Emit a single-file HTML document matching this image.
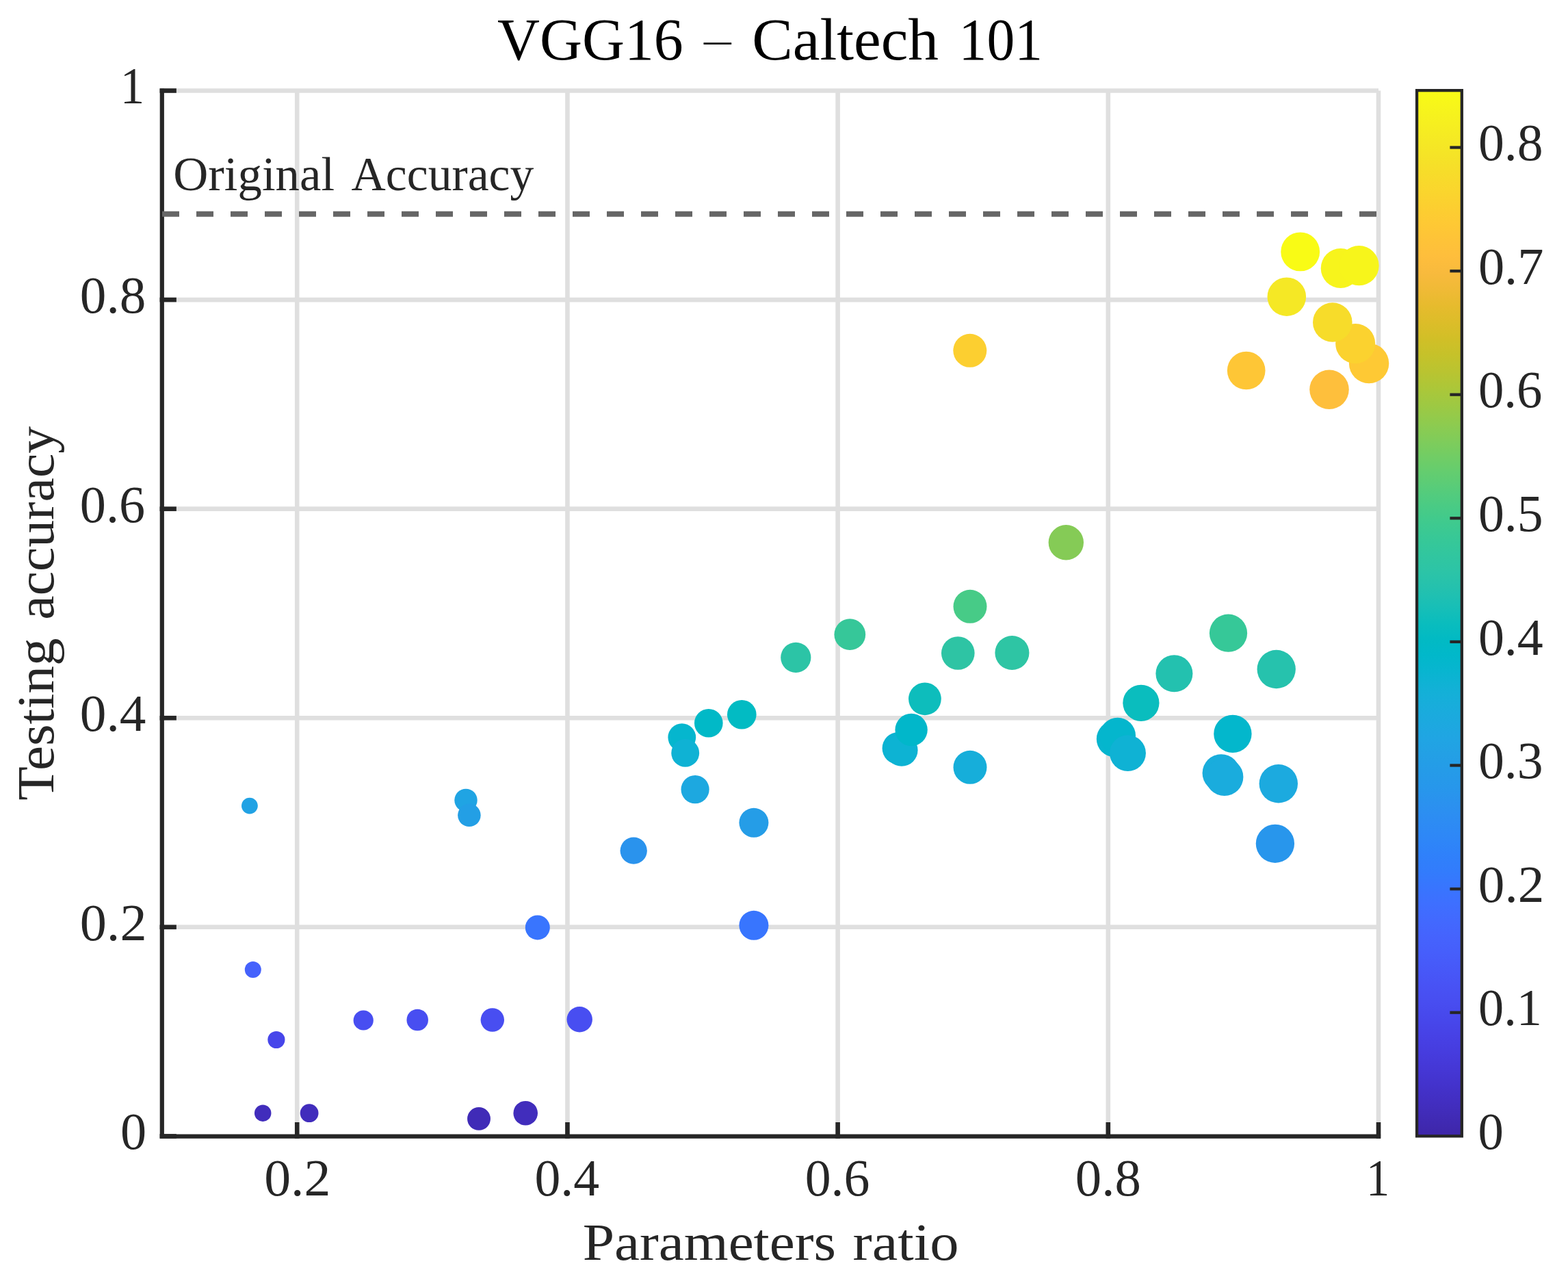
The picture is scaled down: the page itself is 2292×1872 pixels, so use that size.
<!DOCTYPE html>
<html lang="en"><head><meta charset="utf-8"><title>VGG16 – Caltech 101</title>
<style>html,body{margin:0;padding:0;background:#fff;}body{width:2292px;height:1872px;overflow:hidden;}svg{display:block;}text{font-family:"Liberation Serif","DejaVu Serif",serif;white-space:pre;}</style></head><body>
<svg width="2292" height="1872" viewBox="0 0 2292 1872">
<rect width="2292" height="1872" fill="#ffffff"/>
<defs><linearGradient id="parula" x1="0" y1="1" x2="0" y2="0"><stop offset="0.0000" stop-color="#3e26a8"/><stop offset="0.0159" stop-color="#402ab4"/><stop offset="0.0317" stop-color="#422ec0"/><stop offset="0.0476" stop-color="#4332cb"/><stop offset="0.0635" stop-color="#4537d5"/><stop offset="0.0794" stop-color="#463cde"/><stop offset="0.0952" stop-color="#4741e5"/><stop offset="0.1111" stop-color="#4747eb"/><stop offset="0.1270" stop-color="#484df0"/><stop offset="0.1429" stop-color="#4852f4"/><stop offset="0.1587" stop-color="#4758f8"/><stop offset="0.1746" stop-color="#465efb"/><stop offset="0.1905" stop-color="#4563fd"/><stop offset="0.2063" stop-color="#4269fe"/><stop offset="0.2222" stop-color="#3e6fff"/><stop offset="0.2381" stop-color="#3875fe"/><stop offset="0.2540" stop-color="#327cfc"/><stop offset="0.2698" stop-color="#2f81fa"/><stop offset="0.2857" stop-color="#2e87f7"/><stop offset="0.3016" stop-color="#2d8cf3"/><stop offset="0.3175" stop-color="#2b91ef"/><stop offset="0.3333" stop-color="#2797eb"/><stop offset="0.3492" stop-color="#259be8"/><stop offset="0.3651" stop-color="#23a0e5"/><stop offset="0.3810" stop-color="#20a5e3"/><stop offset="0.3968" stop-color="#1ca9df"/><stop offset="0.4127" stop-color="#18addb"/><stop offset="0.4286" stop-color="#12b1d6"/><stop offset="0.4444" stop-color="#08b5d0"/><stop offset="0.4603" stop-color="#01b8ca"/><stop offset="0.4762" stop-color="#02bac3"/><stop offset="0.4921" stop-color="#0bbdbd"/><stop offset="0.5079" stop-color="#19bfb6"/><stop offset="0.5238" stop-color="#24c1ae"/><stop offset="0.5397" stop-color="#2cc4a7"/><stop offset="0.5556" stop-color="#31c69f"/><stop offset="0.5714" stop-color="#37c897"/><stop offset="0.5873" stop-color="#3fca8e"/><stop offset="0.6032" stop-color="#4acb84"/><stop offset="0.6190" stop-color="#57cc7a"/><stop offset="0.6349" stop-color="#64cd6f"/><stop offset="0.6508" stop-color="#72cd64"/><stop offset="0.6667" stop-color="#81cc59"/><stop offset="0.6825" stop-color="#8fcb4e"/><stop offset="0.6984" stop-color="#9dc943"/><stop offset="0.7143" stop-color="#abc739"/><stop offset="0.7302" stop-color="#b9c431"/><stop offset="0.7460" stop-color="#c5c22a"/><stop offset="0.7619" stop-color="#d1bf27"/><stop offset="0.7778" stop-color="#dcbd29"/><stop offset="0.7937" stop-color="#e6bb2d"/><stop offset="0.8095" stop-color="#f0ba36"/><stop offset="0.8254" stop-color="#f8ba3d"/><stop offset="0.8413" stop-color="#febe3c"/><stop offset="0.8571" stop-color="#fec338"/><stop offset="0.8730" stop-color="#fec934"/><stop offset="0.8889" stop-color="#fccf30"/><stop offset="0.9048" stop-color="#fad62d"/><stop offset="0.9206" stop-color="#f7dc2a"/><stop offset="0.9365" stop-color="#f5e327"/><stop offset="0.9524" stop-color="#f5e924"/><stop offset="0.9683" stop-color="#f6ef20"/><stop offset="0.9841" stop-color="#f7f51b"/><stop offset="1.0000" stop-color="#f9fb15"/></linearGradient></defs>
<g stroke="#dfdfdf" stroke-width="6.6" fill="none">
<line x1="434.24" y1="132.50" x2="434.24" y2="1660.40"/>
<line x1="829.43" y1="132.50" x2="829.43" y2="1660.40"/>
<line x1="1224.62" y1="132.50" x2="1224.62" y2="1660.40"/>
<line x1="1619.81" y1="132.50" x2="1619.81" y2="1660.40"/>
<line x1="2015.00" y1="132.50" x2="2015.00" y2="1660.40"/>
<line x1="236.65" y1="1354.82" x2="2015.00" y2="1354.82"/>
<line x1="236.65" y1="1049.24" x2="2015.00" y2="1049.24"/>
<line x1="236.65" y1="743.66" x2="2015.00" y2="743.66"/>
<line x1="236.65" y1="438.08" x2="2015.00" y2="438.08"/>
<line x1="236.65" y1="132.50" x2="2015.00" y2="132.50"/>
</g>
<g>
<circle cx="364.9" cy="1177.6" r="11.90" fill="#21a2e4"/>
<circle cx="681.0" cy="1169.4" r="16.70" fill="#20a4e3"/>
<circle cx="685.9" cy="1191.3" r="16.76" fill="#239fe5"/>
<circle cx="369.8" cy="1417.0" r="11.99" fill="#4562fc"/>
<circle cx="403.9" cy="1519.5" r="12.59" fill="#4746ea"/>
<circle cx="531.2" cy="1491.0" r="14.62" fill="#484ef1"/>
<circle cx="610.2" cy="1490.5" r="15.75" fill="#484ef1"/>
<circle cx="719.8" cy="1490.5" r="17.20" fill="#484ef1"/>
<circle cx="384.2" cy="1626.7" r="12.25" fill="#412dbc"/>
<circle cx="452.1" cy="1626.7" r="13.40" fill="#412dbc"/>
<circle cx="700.0" cy="1634.9" r="16.95" fill="#402bb7"/>
<circle cx="768.2" cy="1626.7" r="17.80" fill="#412dbc"/>
<circle cx="847.2" cy="1489.8" r="18.74" fill="#484ef1"/>
<circle cx="785.8" cy="1355.4" r="18.01" fill="#3975fe"/>
<circle cx="926.2" cy="1243.2" r="19.63" fill="#2a93ed"/>
<circle cx="1101.9" cy="1352.3" r="21.49" fill="#3875fe"/>
<circle cx="1101.9" cy="1202.3" r="21.49" fill="#259de7"/>
<circle cx="1016.1" cy="1153.6" r="20.60" fill="#1da8e0"/>
<circle cx="996.8" cy="1077.6" r="20.40" fill="#05b6ce"/>
<circle cx="1001.7" cy="1100.4" r="20.45" fill="#0fb2d4"/>
<circle cx="1035.8" cy="1056.7" r="20.81" fill="#01b9c7"/>
<circle cx="1084.3" cy="1044.2" r="21.31" fill="#02bbc3"/>
<circle cx="1163.3" cy="960.9" r="22.10" fill="#2cc4a6"/>
<circle cx="1242.3" cy="927.2" r="22.86" fill="#36c799"/>
<circle cx="1418.0" cy="886.3" r="24.48" fill="#47cb87"/>
<circle cx="1400.3" cy="954.5" r="24.32" fill="#2ec4a4"/>
<circle cx="1479.4" cy="954.0" r="25.02" fill="#2ec5a4"/>
<circle cx="1351.9" cy="1021.3" r="23.88" fill="#0dbdbc"/>
<circle cx="1313.1" cy="1093.5" r="23.53" fill="#0bb3d2"/>
<circle cx="1318.0" cy="1096.3" r="23.57" fill="#0db3d3"/>
<circle cx="1332.1" cy="1066.5" r="23.70" fill="#01b7ca"/>
<circle cx="1418.0" cy="1121.3" r="24.48" fill="#16aeda"/>
<circle cx="1558.3" cy="792.8" r="25.69" fill="#85cb56"/>
<circle cx="1417.8" cy="512.3" r="24.47" fill="#fccf30"/>
<circle cx="1795.5" cy="925.2" r="27.62" fill="#36c898"/>
<circle cx="1716.4" cy="984.3" r="27.00" fill="#23c1af"/>
<circle cx="1865.7" cy="978.0" r="28.17" fill="#26c2ad"/>
<circle cx="1667.9" cy="1027.3" r="26.60" fill="#0abdbe"/>
<circle cx="1629.1" cy="1079.9" r="26.28" fill="#06b5ce"/>
<circle cx="1633.7" cy="1075.0" r="26.32" fill="#04b6cd"/>
<circle cx="1648.5" cy="1100.6" r="26.44" fill="#0fb2d4"/>
<circle cx="1801.9" cy="1072.4" r="27.67" fill="#03b7cc"/>
<circle cx="1785.1" cy="1129.7" r="27.54" fill="#19addc"/>
<circle cx="1789.8" cy="1135.4" r="27.58" fill="#1aacdd"/>
<circle cx="1868.8" cy="1145.2" r="28.20" fill="#1caadf"/>
<circle cx="1863.9" cy="1232.8" r="28.16" fill="#2896ec"/>
<circle cx="1900.7" cy="367.9" r="28.44" fill="#f9fb15"/>
<circle cx="1959.6" cy="392.0" r="28.89" fill="#f7f41c"/>
<circle cx="1986.6" cy="388.2" r="29.09" fill="#f7f51b"/>
<circle cx="1880.8" cy="433.7" r="28.29" fill="#f5e825"/>
<circle cx="2001.1" cy="531.1" r="29.20" fill="#fec934"/>
<circle cx="1981.2" cy="502.1" r="29.05" fill="#fbd22f"/>
<circle cx="1947.8" cy="471.0" r="28.80" fill="#f7dc2a"/>
<circle cx="1821.7" cy="541.5" r="27.83" fill="#fec636"/>
<circle cx="1943.0" cy="569.3" r="28.76" fill="#febf3c"/>
</g>
<g stroke="#262626" stroke-width="6.6" fill="none">
<polyline points="236.80,132.50 236.80,1660.60 2015.00,1660.60" stroke-linecap="square" stroke-width="6.2"/>
<line x1="434.24" y1="1663.70" x2="434.24" y2="1640.00"/>
<line x1="829.43" y1="1663.70" x2="829.43" y2="1640.00"/>
<line x1="1224.62" y1="1663.70" x2="1224.62" y2="1640.00"/>
<line x1="1619.81" y1="1663.70" x2="1619.81" y2="1640.00"/>
<line x1="2015.00" y1="1663.70" x2="2015.00" y2="1640.00"/>
<line x1="233.55" y1="1660.40" x2="257.85" y2="1660.40"/>
<line x1="233.55" y1="1354.82" x2="257.85" y2="1354.82"/>
<line x1="233.55" y1="1049.24" x2="257.85" y2="1049.24"/>
<line x1="233.55" y1="743.66" x2="257.85" y2="743.66"/>
<line x1="233.55" y1="438.08" x2="257.85" y2="438.08"/>
<line x1="233.55" y1="132.50" x2="257.85" y2="132.50"/>
</g>
<line x1="237" y1="312.7" x2="2012" y2="312.7" stroke="#666666" stroke-width="8" stroke-dasharray="25 25"/>
<rect x="2071.05" y="132.15" width="65.75" height="1528.15" fill="url(#parula)" stroke="#262626" stroke-width="4.3"/>
<g stroke="#262626" stroke-width="4.3">
<line x1="2119.40" y1="1479.70" x2="2136.80" y2="1479.70"/>
<line x1="2119.40" y1="1299.10" x2="2136.80" y2="1299.10"/>
<line x1="2119.40" y1="1118.50" x2="2136.80" y2="1118.50"/>
<line x1="2119.40" y1="937.90" x2="2136.80" y2="937.90"/>
<line x1="2119.40" y1="757.30" x2="2136.80" y2="757.30"/>
<line x1="2119.40" y1="576.70" x2="2136.80" y2="576.70"/>
<line x1="2119.40" y1="396.10" x2="2136.80" y2="396.10"/>
<line x1="2119.40" y1="215.50" x2="2136.80" y2="215.50"/>
</g>
<g>
<text y="86.80" font-size="87.00" fill="#000"><tspan x="727.10" y="86.80" textLength="271.64" lengthAdjust="spacingAndGlyphs">VGG16</tspan> <tspan x="1029.14" font-size="52.00" y="76.30" textLength="39.62" lengthAdjust="spacingAndGlyphs">–</tspan> <tspan x="1099.31" y="86.80" textLength="272.69" lengthAdjust="spacingAndGlyphs">Caltech</tspan> <tspan x="1401.62" y="86.80" textLength="122.40" lengthAdjust="spacingAndGlyphs">101</tspan></text>
<text y="1841.20" font-size="75.50" fill="#262626"><tspan x="851.70" textLength="370.29" lengthAdjust="spacingAndGlyphs">Parameters</tspan> <tspan x="1246.48" textLength="155.07" lengthAdjust="spacingAndGlyphs">ratio</tspan></text>
<text y="277.90" font-size="69.00" fill="#262626"><tspan x="253.19" textLength="235.88" lengthAdjust="spacingAndGlyphs">Original</tspan> <tspan x="513.60" textLength="266.70" lengthAdjust="spacingAndGlyphs">Accuracy</tspan></text>
<text y="0.00" font-size="75.50" fill="#262626" transform="translate(77.90,1168.60) rotate(-90)"><tspan x="-1.27" textLength="237.53" lengthAdjust="spacingAndGlyphs">Testing</tspan> <tspan x="262.91" textLength="282.79" lengthAdjust="spacingAndGlyphs">accuracy</tspan></text>
<text y="150.90" font-size="76.70" fill="#262626"><tspan x="175.86" textLength="35.47" lengthAdjust="spacingAndGlyphs">1</tspan></text>
<text y="456.98" font-size="76.70" fill="#262626"><tspan x="116.79" textLength="96.53" lengthAdjust="spacingAndGlyphs">0.8</tspan></text>
<text y="762.56" font-size="76.70" fill="#262626"><tspan x="116.82" textLength="95.27" lengthAdjust="spacingAndGlyphs">0.6</tspan></text>
<text y="1068.14" font-size="76.70" fill="#262626"><tspan x="116.78" textLength="96.62" lengthAdjust="spacingAndGlyphs">0.4</tspan></text>
<text y="1373.72" font-size="76.70" fill="#262626"><tspan x="116.75" textLength="97.81" lengthAdjust="spacingAndGlyphs">0.2</tspan></text>
<text y="1679.00" font-size="76.70" fill="#262626"><tspan x="176.11" textLength="38.17" lengthAdjust="spacingAndGlyphs">0</tspan></text>
<text y="1747.40" font-size="76.70" fill="#262626"><tspan x="386.21" textLength="97.28" lengthAdjust="spacingAndGlyphs">0.2</tspan></text>
<text y="1747.40" font-size="76.70" fill="#262626"><tspan x="781.46" textLength="94.75" lengthAdjust="spacingAndGlyphs">0.4</tspan></text>
<text y="1747.40" font-size="76.70" fill="#262626"><tspan x="1176.65" textLength="94.75" lengthAdjust="spacingAndGlyphs">0.6</tspan></text>
<text y="1747.40" font-size="76.70" fill="#262626"><tspan x="1571.81" textLength="96.00" lengthAdjust="spacingAndGlyphs">0.8</tspan></text>
<text y="1746.80" font-size="76.70" fill="#262626"><tspan x="1996.95" textLength="34.27" lengthAdjust="spacingAndGlyphs">1</tspan></text>
<text y="1679.00" font-size="76.70" fill="#262626"><tspan x="2160.56" textLength="37.37" lengthAdjust="spacingAndGlyphs">0</tspan></text>
<text y="1498.30" font-size="76.70" fill="#262626"><tspan x="2160.98" textLength="92.91" lengthAdjust="spacingAndGlyphs">0.1</tspan></text>
<text y="1317.70" font-size="76.70" fill="#262626"><tspan x="2160.89" textLength="96.43" lengthAdjust="spacingAndGlyphs">0.2</tspan></text>
<text y="1137.10" font-size="76.70" fill="#262626"><tspan x="2160.94" textLength="94.53" lengthAdjust="spacingAndGlyphs">0.3</tspan></text>
<text y="956.50" font-size="76.70" fill="#262626"><tspan x="2160.93" textLength="94.86" lengthAdjust="spacingAndGlyphs">0.4</tspan></text>
<text y="775.90" font-size="76.70" fill="#262626"><tspan x="2160.94" textLength="94.53" lengthAdjust="spacingAndGlyphs">0.5</tspan></text>
<text y="595.30" font-size="76.70" fill="#262626"><tspan x="2160.97" textLength="93.30" lengthAdjust="spacingAndGlyphs">0.6</tspan></text>
<text y="414.70" font-size="76.70" fill="#262626"><tspan x="2160.91" textLength="95.48" lengthAdjust="spacingAndGlyphs">0.7</tspan></text>
<text y="234.10" font-size="76.70" fill="#262626"><tspan x="2160.94" textLength="94.53" lengthAdjust="spacingAndGlyphs">0.8</tspan></text>
</g>
</svg></body></html>
